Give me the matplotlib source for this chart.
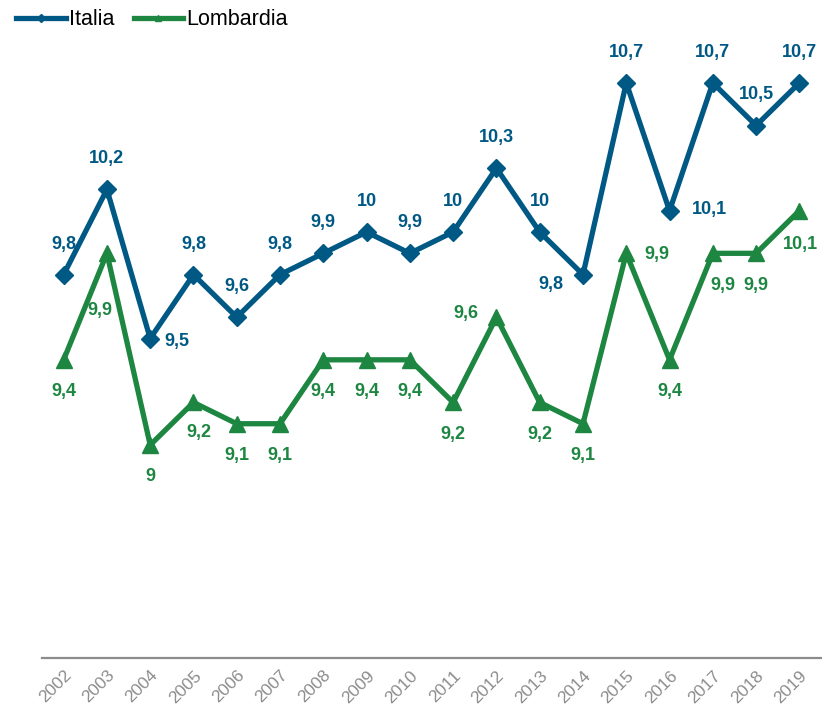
import numpy as np
import matplotlib.pyplot as plt
from matplotlib.lines import Line2D

plt.rcParams['font.family'] = ['Liberation Sans', 'DejaVu Sans']

anni = list(range(2002, 2020))
italia = [9.8, 10.2, 9.5, 9.8, 9.6, 9.8, 9.9, 10.0, 9.9, 10.0,
          10.3, 10.0, 9.8, 10.7, 10.1, 10.7, 10.5, 10.7]
lombardia = [9.4, 9.9, 9.0, 9.2, 9.1, 9.1, 9.4, 9.4, 9.4, 9.2,
             9.6, 9.2, 9.1, 9.9, 9.4, 9.9, 9.9, 10.1]

blu = '#005984'
verde = '#1d8641'

def fmt(v):
    s = ('%.1f' % v).replace('.', ',')
    return s[:-2] if s.endswith(',0') else s

# label offsets in points (dx, dy)
off_it = {2004: (19, -2), 2014: (-23, -7), 2016: (29, 1)}
off_lo = {2003: (-5, -41), 2005: (4, -22), 2012: (-22, 3), 2015: (22, -1),
          2017: (7, -23), 2019: (1, -24)}

fig = plt.figure(figsize=(8.22, 7.12), dpi=100)
ax = fig.add_axes([0.0511, 0.0758, 0.9477, 0.8975])

ax.plot(anni, italia, color=blu, lw=3.8, marker='D', ms=9.5, zorder=3)
ax.plot(anni, lombardia, color=verde, lw=3.8, marker='^', ms=11.5, zorder=3)

for a, v in zip(anni, italia):
    dx, dy = off_it.get(a, (0, 22))
    ax.annotate(fmt(v), (a, v), xytext=(dx, dy), textcoords='offset points',
                ha='center', va='center', color=blu, fontsize=13, fontweight='bold')
for a, v in zip(anni, lombardia):
    dx, dy = off_lo.get(a, (0, -23))
    ax.annotate(fmt(v), (a, v), xytext=(dx, dy), textcoords='offset points',
                ha='center', va='center', color=verde, fontsize=13, fontweight='bold')

ax.set_xlim(2001.5, 2019.5)
ax.set_ylim(8, 11)
for s in ['top', 'right', 'left']:
    ax.spines[s].set_visible(False)
ax.spines['bottom'].set_color('#8c8c8c')
ax.spines['bottom'].set_linewidth(1.6)
ax.set_yticks([])
ax.set_xticks(anni)
ax.set_xticklabels([str(a) for a in anni], rotation=45, ha='right',
                   rotation_mode='anchor', color='#8c8c8c', fontsize=12.5)
ax.tick_params(axis='x', length=0, pad=7)

handles = [Line2D([], [], color=blu, lw=3.8, marker='D', ms=4),
           Line2D([], [], color=verde, lw=3.8, marker='^', ms=5)]
fig.legend(handles, ['Italia', 'Lombardia'], loc='upper left',
           bbox_to_anchor=(-0.004, 1.014), ncol=2, frameon=False,
           fontsize=15.5, handlelength=2.3, handletextpad=0.15, columnspacing=0.9)

fig.savefig('out.png', dpi=100)
